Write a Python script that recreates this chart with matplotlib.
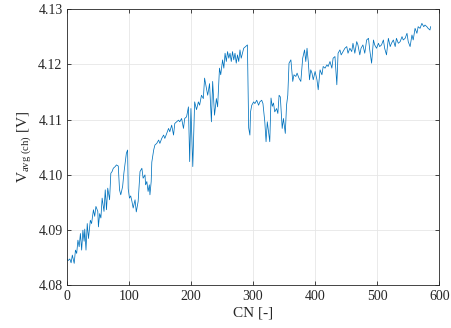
import matplotlib
matplotlib.use("Agg")
import matplotlib.pyplot as plt

plt.rcParams['font.family'] = ['Liberation Serif', 'DejaVu Serif']
plt.rcParams['mathtext.fontset'] = 'custom'
plt.rcParams['mathtext.rm'] = 'Liberation Serif'
plt.rcParams['mathtext.it'] = 'Liberation Serif:italic'

# cycle number and average charge voltage
cn = [
    0, 2, 5, 7, 9, 12, 14, 16, 18, 20, 22, 24, 26, 28, 29, 31, 33, 35, 38, 40,
    43, 45, 47, 50, 51, 53, 55, 57, 60, 62, 64, 66, 69, 71, 73, 75, 78, 80, 83, 85,
    87, 90, 92, 94, 96, 98, 99, 101, 103, 105, 107, 110, 112, 115, 118, 121, 123, 126, 127, 129,
    131, 133, 134, 136, 137, 140, 142, 145, 148, 150, 153, 156, 158, 161, 164, 166, 169, 172, 174, 177,
    180, 182, 185, 188, 190, 193, 196, 198, 200, 203, 206, 209, 212, 214, 217, 220, 222, 225, 227, 230,
    233, 235, 238, 241, 243, 246, 248, 251, 253, 255, 257, 259, 261, 263, 265, 267, 269, 271, 273, 275,
    277, 279, 281, 283, 285, 288, 291, 293, 295, 296, 298, 301, 303, 306, 309, 311, 314, 316, 319, 321,
    323, 325, 327, 329, 331, 333, 335, 338, 340, 342, 344, 347, 349, 352, 354, 356, 358, 361, 364, 366,
    369, 371, 374, 377, 380, 383, 385, 387, 389, 391, 393, 395, 397, 400, 403, 405, 408, 411, 413, 416,
    419, 421, 424, 427, 429, 432, 435, 437, 440, 442, 445, 448, 451, 453, 456, 459, 461, 464, 467, 469,
    472, 474, 477, 480, 483, 486, 488, 491, 494, 496, 499, 502, 504, 507, 510, 512, 515, 518, 521, 523,
    526, 529, 531, 534, 537, 540, 542, 545, 548, 550, 553, 556, 558, 561, 564, 566, 569, 572, 575, 577,
    580, 582, 585, 586,
]
v_avg = [
    4.0849, 4.0845, 4.0848, 4.0841, 4.0855, 4.0840, 4.0864, 4.0858, 4.0882, 4.0870,
    4.0894, 4.0864, 4.0900, 4.0880, 4.0902, 4.0864, 4.0912, 4.0885, 4.0918, 4.0912,
    4.0937, 4.0925, 4.0943, 4.0934, 4.0906, 4.0930, 4.0922, 4.0958, 4.0934, 4.0973,
    4.0937, 4.0976, 4.0955, 4.1003, 4.1006, 4.1012, 4.1015, 4.1018, 4.1016, 4.0973,
    4.0964, 4.0979, 4.1003, 4.1021, 4.1039, 4.1045, 4.0975, 4.0958, 4.0962, 4.0952,
    4.0940, 4.0955, 4.0933, 4.0952, 4.1006, 4.1012, 4.0994, 4.1000, 4.0982, 4.0988,
    4.0970, 4.0982, 4.0964, 4.0988, 4.1023, 4.1045, 4.1054, 4.1057, 4.1063, 4.1057,
    4.1066, 4.1072, 4.1066, 4.1075, 4.1084, 4.1078, 4.1090, 4.1072, 4.1093, 4.1096,
    4.1099, 4.1096, 4.1102, 4.1084, 4.1102, 4.1105, 4.1123, 4.1024, 4.1120, 4.1015,
    4.1132, 4.1118, 4.1132, 4.1126, 4.1144, 4.1138, 4.1175, 4.1157, 4.1144, 4.1165,
    4.1096, 4.1169, 4.1108, 4.1138, 4.1123, 4.1193, 4.1181, 4.1208, 4.1193, 4.1220,
    4.1205, 4.1223, 4.1211, 4.1220, 4.1205, 4.1223, 4.1208, 4.1220, 4.1202, 4.1217,
    4.1205, 4.1226, 4.1211, 4.1220, 4.1229, 4.1232, 4.1235, 4.1085, 4.1072, 4.1114,
    4.1126, 4.1132, 4.1129, 4.1135, 4.1126, 4.1132, 4.1135, 4.1129, 4.1096, 4.1060,
    4.1096, 4.1078, 4.1060, 4.1139, 4.1124, 4.1130, 4.1114, 4.1120, 4.1111, 4.1144,
    4.1141, 4.1084, 4.1102, 4.1075, 4.1126, 4.1144, 4.1202, 4.1208, 4.1169, 4.1181,
    4.1178, 4.1184, 4.1175, 4.1169, 4.1211, 4.1226, 4.1205, 4.1229, 4.1205, 4.1172,
    4.1190, 4.1184, 4.1172, 4.1187, 4.1172, 4.1154, 4.1190, 4.1181, 4.1196, 4.1193,
    4.1199, 4.1196, 4.1205, 4.1193, 4.1211, 4.1214, 4.1163, 4.1220, 4.1226, 4.1217,
    4.1223, 4.1229, 4.1232, 4.1220, 4.1229, 4.1223, 4.1238, 4.1220, 4.1241, 4.1235,
    4.1217, 4.1229, 4.1235, 4.1220, 4.1244, 4.1247, 4.1226, 4.1202, 4.1244, 4.1235,
    4.1229, 4.1238, 4.1232, 4.1235, 4.1244, 4.1229, 4.1217, 4.1247, 4.1232, 4.1238,
    4.1244, 4.1232, 4.1247, 4.1238, 4.1241, 4.1250, 4.1244, 4.1247, 4.1256, 4.1241,
    4.1232, 4.1253, 4.1244, 4.1265, 4.1256, 4.1268, 4.1265, 4.1274, 4.1268, 4.1271,
    4.1268, 4.1265, 4.1262, 4.1268,
]

x_ticks = [0, 100, 200, 300, 400, 500, 600]
y_ticks = [4.08, 4.09, 4.10, 4.11, 4.12, 4.13]

fig = plt.figure(figsize=(4.51, 3.28), dpi=100)
ax = fig.add_axes([0.148, 0.1296, 0.826, 0.843])

ax.plot(cn, v_avg, color='#0072BD', lw=0.55)

ax.set_xlim(0, 600)
ax.set_ylim(4.08, 4.13)
ax.set_xticks(x_ticks)
ax.set_yticks(y_ticks)
ax.set_yticklabels([f"{t:.2f}" for t in y_ticks])

ax.grid(True, color='#e6e6e6', lw=0.6)
ax.set_axisbelow(True)
for s in ax.spines.values():
    s.set_color('#262626')
    s.set_linewidth(0.6)
ax.tick_params(direction='in', length=3, width=0.6, top=True, right=True,
               labelsize=10, colors='#262626', labelcolor='#262626', pad=3)

ax.set_xlabel('CN [-]', fontsize=11, color='#262626', labelpad=3)
ax.set_ylabel(r'V$_{\mathrm{avg\ (ch)}}$ [V]', fontsize=11, color='#262626', labelpad=4)

fig.savefig('out.png', dpi=100)
